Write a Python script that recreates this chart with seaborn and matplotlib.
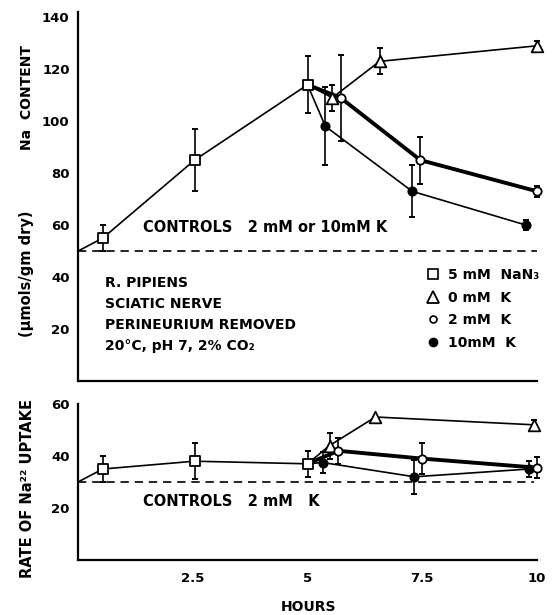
import numpy as np
import pandas as pd
import matplotlib
matplotlib.use("Agg")
import matplotlib.pyplot as plt
from matplotlib.lines import Line2D
import seaborn as sns

# ---- top panel: Na content (umol/gm dry) ----
control_na = 50
nan3_hours = [0.54, 2.54, 5.0]
nan3_na = [55, 85, 114]
nan3_na_err = [5, 12, 11]

k0_hours = [5.54, 6.57, 10.0]
k0_na = [109, 123, 129]
k0_na_err = [5, 5, 2]

k2_hours = [5.72, 7.46, 10.0]
k2_na = [109, 85, 73]
k2_na_err = [16.5, 9, 2]

k10_hours = [5.39, 7.28, 9.76]
k10_na = [98, 73, 60]
k10_na_err = [15, 10, 2]

# ---- bottom panel: rate of Na22 uptake ----
control_rate = 30
nan3_hours_b = [0.54, 2.54, 5.0]
nan3_rate = [35, 38, 37]
nan3_rate_err = [5, 7, 5]

k0_hours_b = [5.48, 6.48, 9.93]
k0_rate = [44, 55, 52]
k0_rate_err = [5, 0, 2]

k2_hours_b = [5.67, 7.5, 10.0]
k2_rate = [42, 39, 35.5]
k2_rate_err = [5, 6, 4]

k10_hours_b = [5.33, 7.33, 9.83]
k10_rate = [37.5, 32, 35]
k10_rate_err = [4, 6.5, 3]

na_ticks = [20, 40, 60, 80, 100, 120, 140]
rate_ticks = [20, 40, 60]
hour_ticks = [2.5, 5, 7.5, 10]
hour_labels = ["2.5", "5", "7.5", "10"]
legend_labels = ["5 mM  NaN₃", "0 mM  K", "2 mM  K", "10mM  K"]

sns.set_theme(style="white")
plt.rcParams["font.family"] = ["DejaVu Sans"]
plt.rcParams["font.weight"] = "bold"
for k in ("text.color", "axes.labelcolor", "xtick.color", "ytick.color", "axes.edgecolor"):
    plt.rcParams[k] = "black"

W, H = 558, 615
fig = plt.figure(figsize=(W / 100, H / 100), dpi=100)
ax1 = fig.add_axes([78 / W, 1 - 381 / H, (537 - 78) / W, 369 / H])
ax2 = fig.add_axes([78 / W, 1 - 560 / H, (537 - 78) / W, 156 / H])

STYLE = {
    "sq": dict(marker="s", face="white", size=55),
    "tri": dict(marker="^", face="white", size=70),
    "oc": dict(marker="o", face="white", size=36),
    "fc": dict(marker="o", face="black", size=36),
}


def draw_series(ax, xs, ys, errs, style, lw, start=None):
    lx = list(xs)
    ly = list(ys)
    if start is not None:
        lx = [start[0]] + lx
        ly = [start[1]] + ly
    df = pd.DataFrame({"h": lx, "v": ly})
    sns.lineplot(data=df, x="h", y="v", ax=ax, color="black", lw=lw,
                 sort=False, estimator=None, zorder=2, clip_on=False)
    e = np.array(errs, dtype=float)
    m = e > 0
    ax.errorbar(np.array(xs)[m], np.array(ys)[m], yerr=e[m], fmt="none",
                ecolor="black", elinewidth=1.2, capsize=2.3, capthick=1.4,
                zorder=3, clip_on=False)
    sns.scatterplot(x=list(xs), y=list(ys), ax=ax, marker=style["marker"],
                    s=style["size"], color=style["face"], edgecolor="black",
                    linewidth=1.3, zorder=4, clip_on=False)


THIN, THICK = 1.2, 2.8

# top panel
ax1.axhline(control_na, color="black", lw=1.2, ls=(0, (5, 3.5)), zorder=1)
draw_series(ax1, nan3_hours, nan3_na, nan3_na_err, STYLE["sq"], THIN, start=(0, control_na))
p5 = (nan3_hours[-1], nan3_na[-1])
draw_series(ax1, k10_hours, k10_na, k10_na_err, STYLE["fc"], THIN, start=p5)
draw_series(ax1, k0_hours, k0_na, k0_na_err, STYLE["tri"], THIN, start=p5)
draw_series(ax1, k2_hours, k2_na, k2_na_err, STYLE["oc"], THICK, start=p5)

# bottom panel
ax2.plot([0, 9.93], [control_rate, control_rate], color="black", lw=1.2,
         ls=(0, (5, 3.5)), zorder=1)
draw_series(ax2, nan3_hours_b, nan3_rate, nan3_rate_err, STYLE["sq"], THIN, start=(0, control_rate))
p5b = (nan3_hours_b[-1], nan3_rate[-1])
draw_series(ax2, k10_hours_b, k10_rate, k10_rate_err, STYLE["fc"], THIN, start=p5b)
draw_series(ax2, k0_hours_b, k0_rate, k0_rate_err, STYLE["tri"], THIN, start=p5b)
draw_series(ax2, k2_hours_b, k2_rate, k2_rate_err, STYLE["oc"], THICK, start=p5b)

for ax, ylim, yt in ((ax1, (0, 142), na_ticks), (ax2, (0, 60), rate_ticks)):
    ax.set_xlim(0, 10)
    ax.set_ylim(*ylim)
    ax.set_yticks(yt)
    ax.set_xticks(hour_ticks)
    ax.set_xlabel("")
    ax.set_ylabel("")
    ax.spines[["top", "right"]].set_visible(False)
    for s in ("left", "bottom"):
        ax.spines[s].set_color("black")
        ax.spines[s].set_linewidth(1.6)
    ax.tick_params(direction="in", length=5, width=1.3, colors="black",
                   labelsize=9.5, pad=6)
    ax.tick_params(axis="x", pad=9)
    ax.set_facecolor("white")

ax1.set_xticklabels([])
ax2.set_xticklabels(hour_labels)
for ax in (ax1, ax2):
    for lab in ax.get_xticklabels() + ax.get_yticklabels():
        lab.set_fontweight("bold")

# legend
handles = [
    Line2D([], [], ls="none", marker="s", markersize=6.5, mfc="white", mec="black", mew=1.2),
    Line2D([], [], ls="none", marker="^", markersize=8, mfc="white", mec="black", mew=1.3),
    Line2D([], [], ls="none", marker="o", markersize=5, mfc="white", mec="black", mew=1.2),
    Line2D([], [], ls="none", marker="o", markersize=6, mfc="black", mec="black", mew=1.0),
]
fig.legend(handles, legend_labels, loc="upper left",
           bbox_to_anchor=(426 / W, 1 - 268 / H), frameon=False,
           prop={"size": 10, "weight": "bold"}, handlelength=1.0,
           handletextpad=0.6, labelspacing=0.62, borderpad=0, borderaxespad=0)


def fx(x):
    return x / W


def fy(y):
    return 1 - y / H


fig.text(fx(143), fy(227), "CONTROLS   2 mM or 10mM K", ha="left", va="center",
         fontsize=10.5, fontweight="bold")
info = ["R. PIPIENS", "SCIATIC NERVE", "PERINEURIUM REMOVED", "20°C, pH 7, 2% CO₂"]
for i, t in enumerate(info):
    fig.text(fx(105), fy(283 + 21 * i), t, ha="left", va="center",
             fontsize=10, fontweight="bold")
fig.text(fx(143), fy(501), "CONTROLS   2 mM   K", ha="left", va="center",
         fontsize=10.5, fontweight="bold")
fig.text(fx(309), fy(607), "HOURS", ha="center", va="center",
         fontsize=10, fontweight="bold")
fig.text(fx(27), fy(98), "Na  CONTENT", rotation=90, ha="center", va="center",
         fontsize=10, fontweight="bold")
fig.text(fx(27), fy(274), "(μmols/gm dry)", rotation=90, ha="center", va="center",
         fontsize=10.5, fontweight="bold")
fig.text(fx(28), fy(489), "RATE OF Na²² UPTAKE", rotation=90, ha="center",
         va="center", fontsize=10.5, fontweight="bold")

fig.savefig("out.png", dpi=100, facecolor="white")
